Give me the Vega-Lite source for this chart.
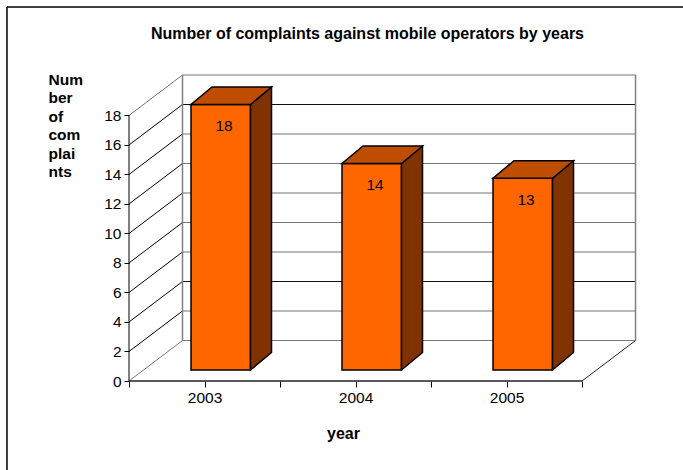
{
"$schema":"https://vega.github.io/schema/vega-lite/v6.json",
"width":507,"height":308,
"autosize":"none",
"padding":{"left":129,"top":73,"right":47,"bottom":89},
"background":"white",
"config":{"view":{"stroke":null},"font":"Liberation Sans"},
"title":{"text":"Number of complaints against mobile operators by years","anchor":"start","frame":"group","dx":22,"offset":-36,"fontSize":16,"fontWeight":"bold","color":"#000"},
"datasets":{
"ticks":[{"tick":0},{"tick":2},{"tick":4},{"tick":6},{"tick":8},{"tick":10},{"tick":12},{"tick":14},{"tick":16},{"tick":18}],
"bars":[{"year":"2003","slot":0,"count":18},{"year":"2004","slot":1,"count":14},{"year":"2005","slot":2,"count":13}],
"one":[{}],
"side":[
{"year":"2003","px":0.8046,"lo":0.746,"hi":18.746},{"year":"2003","px":0.9437,"lo":1.932,"hi":19.932},
{"year":"2004","px":1.8046,"lo":0.746,"hi":14.746},{"year":"2004","px":1.9437,"lo":1.932,"hi":15.932},
{"year":"2005","px":2.8046,"lo":0.746,"hi":13.746},{"year":"2005","px":2.9437,"lo":1.932,"hi":14.932}],
"top":[
{"year":"2003","px":0.4106,"lo":18.746,"hi":18.746},{"year":"2003","px":0.5497,"lo":18.746,"hi":19.932},{"year":"2003","px":0.8046,"lo":18.746,"hi":19.932},{"year":"2003","px":0.9437,"lo":19.932,"hi":19.932},
{"year":"2004","px":1.4106,"lo":14.746,"hi":14.746},{"year":"2004","px":1.5497,"lo":14.746,"hi":15.932},{"year":"2004","px":1.8046,"lo":14.746,"hi":15.932},{"year":"2004","px":1.9437,"lo":15.932,"hi":15.932},
{"year":"2005","px":2.4106,"lo":13.746,"hi":13.746},{"year":"2005","px":2.5497,"lo":13.746,"hi":14.932},{"year":"2005","px":2.8046,"lo":13.746,"hi":14.932},{"year":"2005","px":2.9437,"lo":14.932,"hi":14.932}]
},
"layer":[
{"data":{"name":"one"},"mark":{"type":"rule","color":"#000","strokeWidth":1.5},
 "encoding":{"x":{"datum":-0.808,"type":"quantitative","scale":{"domain":[0,3.3575],"nice":false,"zero":false},
   "axis":{"values":[0,0.5,1,1.5,2,2.5,3],"tickCount":20,"grid":false,"domain":false,"title":"year","titleFontSize":16,"titleFontWeight":"bold","titleColor":"#000","titleX":214,"titleY":52,"titleBaseline":"middle","tickSize":6,"tickColor":"#000","labelColor":"#000","labelFontSize":15.5,"labelPadding":3,"labelOverlap":false,"labelFlush":false,"labelExpr":"datum.value==0.5?'2003':datum.value==1.5?'2004':datum.value==2.5?'2005':''","encoding":{"ticks":{"update":{"opacity":{"signal":"datum.value%1===0?1:0"}}}}}},
   "y":{"datum":25.36,"type":"quantitative","scale":{"domain":[0,20.88],"nice":false,"zero":false},
   "axis":{"values":[0,2,4,6,8,10,12,14,16,18],"tickCount":20,"grid":false,"domain":false,"title":["Num","ber","of","com","plai","nts"],"titleFontSize":15.5,"titleFontWeight":"bold","titleColor":"#000","titleAngle":0,"titleAlign":"left","titleBaseline":"top","titleLineHeight":18.5,"titleX":-81,"titleY":-1,"tickSize":5,"tickColor":"#000","labelColor":"#000","labelFontSize":15.5,"labelPadding":3,"labelOverlap":false}},
   "y2":{"datum":-6.03}}},
{"data":{"name":"one"},"mark":{"type":"rule","color":"#000","strokeWidth":1.5},
 "encoding":{"x":{"datum":-0.808,"type":"quantitative"},"x2":{"datum":3.67},"y":{"datum":25.36,"type":"quantitative"}}},
{"data":{"name":"ticks"},"mark":{"type":"rule","strokeWidth":1.2,"xOffset":53.5,"x2Offset":53.5,"yOffset":-40.5},
 "encoding":{"x":{"datum":0,"type":"quantitative"},"x2":{"datum":3},"y":{"field":"tick","type":"quantitative"},
  "color":{"condition":{"test":"datum.tick==16||datum.tick==4","value":"#111"},"value":"#777"}}},
{"data":{"name":"ticks"},"mark":{"type":"rule","strokeWidth":1,"x2Offset":53.5,"y2Offset":-40.5},
 "encoding":{"x":{"datum":0,"type":"quantitative"},"x2":{"datum":0},"y":{"field":"tick","type":"quantitative"},"y2":{"field":"tick"},
  "color":{"condition":{"test":"datum.tick==0||datum.tick==18","value":"#777"},"value":"#000"}}},
{"data":{"name":"one"},"mark":{"type":"rule","strokeWidth":1,"color":"#222","x2Offset":53.5,"y2Offset":-40.5},
 "encoding":{"x":{"datum":3,"type":"quantitative"},"x2":{"datum":3},"y":{"datum":0,"type":"quantitative"},"y2":{"datum":0}}},
{"data":{"name":"one"},"mark":{"type":"rule","strokeWidth":1.5,"color":"#808080","xOffset":53.5,"yOffset":-40.5,"y2Offset":-40.5},
 "encoding":{"x":{"datum":0,"type":"quantitative"},"y":{"datum":0,"type":"quantitative"},"y2":{"datum":18}}},
{"data":{"name":"one"},"mark":{"type":"rule","strokeWidth":1.5,"color":"#808080","xOffset":53.5,"yOffset":-40.5,"y2Offset":-40.5},
 "encoding":{"x":{"datum":3,"type":"quantitative"},"y":{"datum":0,"type":"quantitative"},"y2":{"datum":18}}},
{"data":{"name":"one"},"mark":{"type":"rule","strokeWidth":1,"color":"#000"},
 "encoding":{"x":{"datum":0,"type":"quantitative"},"y":{"datum":0,"type":"quantitative"},"y2":{"datum":18}}},
{"data":{"name":"one"},"mark":{"type":"rule","strokeWidth":1.3,"color":"#222"},
 "encoding":{"x":{"datum":0,"type":"quantitative"},"x2":{"datum":3},"y":{"datum":0,"type":"quantitative"}}},
{"data":{"name":"bars"},"mark":{"type":"rect","fill":"#FF6600","stroke":"#000","strokeWidth":1.5,"xOffset":62,"x2Offset":121.5,"yOffset":-11,"y2Offset":-11},
 "encoding":{"x":{"field":"slot","type":"quantitative"},"x2":{"field":"slot"},"y":{"field":"count","type":"quantitative"},"y2":{"datum":0}}},
{"data":{"name":"side"},"mark":{"type":"area","fill":"#803300","stroke":"#000","strokeWidth":1.5,"strokeJoin":"miter","fillOpacity":1},
 "encoding":{"x":{"field":"px","type":"quantitative"},"y":{"field":"lo","type":"quantitative"},"y2":{"field":"hi"},"detail":{"field":"year"}}},
{"data":{"name":"top"},"mark":{"type":"area","fill":"#BF4D00","stroke":"#000","strokeWidth":1.5,"strokeJoin":"miter","fillOpacity":1},
 "encoding":{"x":{"field":"px","type":"quantitative"},"y":{"field":"lo","type":"quantitative"},"y2":{"field":"hi"},"detail":{"field":"year"}}},
{"data":{"name":"bars"},"mark":{"type":"text","fontSize":15.5,"color":"#000","xOffset":95,"yOffset":10.5,"baseline":"middle"},
 "encoding":{"x":{"field":"slot","type":"quantitative"},"y":{"field":"count","type":"quantitative"},"text":{"field":"count","type":"quantitative"}}}
]
}
